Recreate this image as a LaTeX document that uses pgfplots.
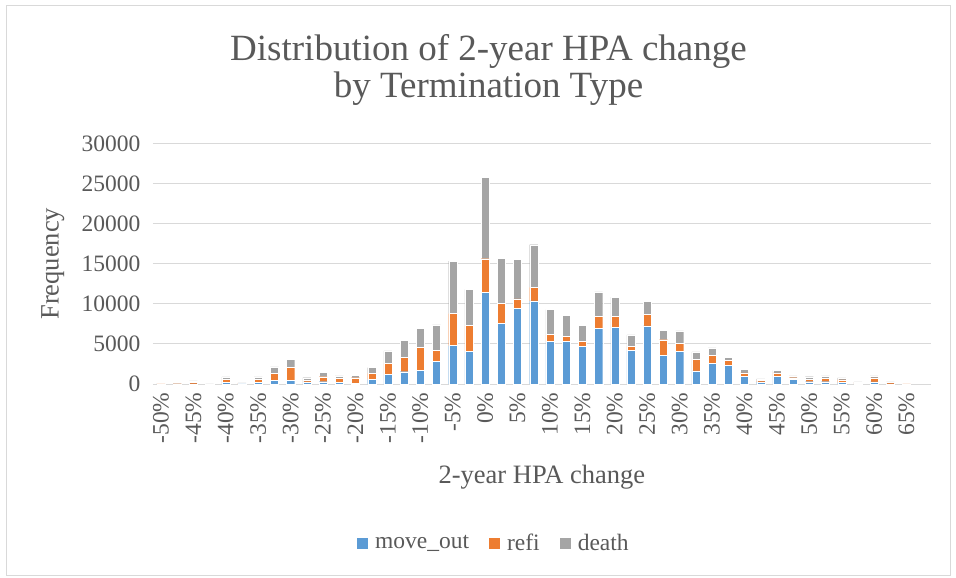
\documentclass[border=0pt]{standalone}
\usepackage{pgfplots}
\pgfplotsset{compat=1.18}
\usepackage{pgfplotstable}
\usepackage{fontspec}
\setmainfont{Liberation Serif}
\definecolor{xblue}{HTML}{5B9BD5}
\definecolor{xorange}{HTML}{ED7D31}
\definecolor{xgray}{HTML}{A5A5A5}
\definecolor{gridc}{HTML}{D9D9D9}
\definecolor{txt}{HTML}{595959}

% k = bin index (-50% ... 67.5% in steps of 2.5%)
\pgfplotstableread{
k move refi death
0 0 20 60
1 10 30 80
2 30 140 220
3 0 0 30
4 200 370 330
5 20 80 40
6 200 380 300
7 420 920 790
8 460 1580 1000
9 250 200 330
10 290 620 580
11 170 500 330
12 80 710 330
13 580 750 710
14 1170 1375 1580
15 1540 1750 2170
16 1700 2850 2420
17 2830 1375 3170
18 4790 4000 6540
19 4080 3210 4500
20 11420 4210 10170
21 7580 2460 5625
22 9420 1210 4960
23 10375 1670 5330
24 5290 875 3125
25 5290 670 2580
26 4670 625 2040
27 6920 1540 3040
28 7080 1375 2375
29 4210 460 1460
30 7250 1420 1670
31 3600 1920 1190
32 4080 980 1580
33 1625 1420 960
34 2580 960 960
35 2290 625 420
36 920 460 460
37 250 170 210
38 960 420 330
39 580 210 210
40 290 330 290
41 290 420 290
42 170 330 250
43 50 120 80
44 250 500 250
45 20 200 30
46 0 20 60
47 0 0 0
}\hpa

\begin{document}
\begin{tikzpicture}
\useasboundingbox (-161pt,-194pt) rectangle (795pt,384pt);
\draw[gridc,line width=0.8pt] (-155pt,-191pt) rectangle (789pt,379pt);
\begin{axis}[
  at={(0pt,0pt)},anchor=origin,
  scale only axis,width=778pt,height=240.5pt,
  ybar stacked,bar width=0.5,
  xmin=-0.5,xmax=47.5,ymin=0,ymax=30000,
  ytick={0,5000,...,30000},
  xtick={0,2,...,46},
  xticklabels={-50\%,-45\%,-40\%,-35\%,-30\%,-25\%,-20\%,-15\%,-10\%,-5\%,0\%,5\%,10\%,15\%,20\%,25\%,30\%,35\%,40\%,45\%,50\%,55\%,60\%,65\%},
  x tick label style={rotate=90,anchor=east,font=\fontsize{23.5}{26}\selectfont,text=txt},
  y tick label style={font=\fontsize{23.5}{26}\selectfont,text=txt},
  yticklabel style={/pgf/number format/.cd,set thousands separator={},assume math mode=true},
  scaled y ticks=false,
  major tick length=0pt,
  xticklabel shift=5pt,yticklabel shift=9pt,
  axis x line*=bottom,axis y line*=left,
  x axis line style={gridc,line width=1pt},
  y axis line style={draw=none},
  ymajorgrids=true,grid style={gridc,line width=1pt},
  xlabel={2-year HPA change},
  ylabel={Frequency},
  xlabel style={font=\fontsize{26.5}{30}\selectfont,text=txt,at={(axis description cs:0.5,0)},anchor=base,yshift=-99pt},
  ylabel style={font=\fontsize{26.5}{30}\selectfont,text=txt,at={(axis description cs:-0.1285,0.5)},anchor=center,rotate=0},
  legend columns=3,
  legend style={draw=none,fill=none,at={(341pt,-159pt)},anchor=center,
    font=\fontsize{23.5}{26}\selectfont,text=txt,
    /tikz/every odd column/.append style={column sep=5pt},
    /tikz/every even column/.append style={column sep=18pt}},
  legend image code/.code={\fill[#1,draw=none] (0pt,-5.5pt) rectangle (11pt,5.5pt);},
]
\addplot[fill=xblue,draw=white,line width=0.3pt] table[x=k,y=move] {\hpa};
\addplot[fill=xorange,draw=white,line width=0.3pt] table[x=k,y=refi] {\hpa};
\addplot[fill=xgray,draw=white,line width=0.3pt] table[x=k,y=death] {\hpa};
\legend{move\_out,refi,death}
\end{axis}
\node[anchor=base,text=txt,font=\fontsize{37}{40}\selectfont] at (327.5pt,323pt) {Distribution of 2-year HPA change};
\node[anchor=base,text=txt,font=\fontsize{37}{40}\selectfont] at (327.5pt,286pt) {by Termination Type};
\end{tikzpicture}
\end{document}
